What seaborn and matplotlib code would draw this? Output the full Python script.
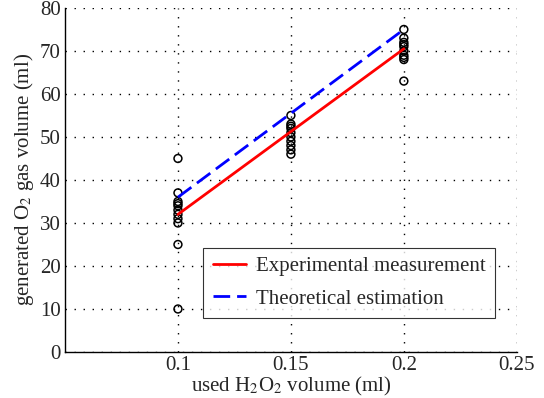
import pandas as pd
import seaborn as sns
import matplotlib.pyplot as plt
import numpy as np

# Measured samples
x_points = [0.1] * 11 + [0.15] * 10 + [0.2] * 10
y_points = [45, 37, 35, 34.5, 34, 33, 32, 31, 30, 25, 10,
            55, 53, 52.5, 52, 51, 50, 49, 48, 47, 46,
            75, 73, 72, 71.5, 71, 70, 69, 68.5, 68, 63]

# Fitted lines
x_line = [0.1, 0.15, 0.2]
exp_line = [32, 51.25, 70.5]
theo_line = [36, 55.5, 75]

sns.set_style("white")
plt.rcParams["font.family"] = ["Liberation Serif", "DejaVu Serif"]
plt.rcParams["mathtext.fontset"] = "stix"

fig = plt.figure(figsize=(5.44, 3.98), dpi=100)
ax = fig.add_axes([0.1195, 0.1156, 0.8305, 0.8644])

df_pts = pd.DataFrame({"x": x_points, "y": y_points})
sns.scatterplot(data=df_pts, x="x", y="y", ax=ax, marker="o", s=32,
                facecolor="none", edgecolor="black", linewidth=1.1, zorder=3)

df_lines = pd.DataFrame({"x": x_line * 2,
                         "y": exp_line + theo_line,
                         "kind": ["Experimental measurement"] * 3 + ["Theoretical estimation"] * 3})
sns.lineplot(data=df_lines, x="x", y="y", hue="kind", style="kind",
             palette=["red", "blue"], dashes=[(None, None), (6, 2.5)],
             linewidth=2, ax=ax, zorder=4)

ax.set_xlim(0.05, 0.25)
ax.set_ylim(0, 80)
ax.set_xticks([0.1, 0.15, 0.2, 0.25])
ax.set_xticklabels(["0.1", "0.15", "0.2", "0.25"])
ax.set_yticks(range(0, 81, 10))
ax.tick_params(direction="in", length=4, labelsize=15, width=0.8, pad=3)
ax.grid(True, linestyle=(0, (1, 5.5)), color="black", linewidth=1.0)
for s in ["top", "right"]:
    ax.spines[s].set_visible(False)
for s in ["left", "bottom"]:
    ax.spines[s].set_color("black")
    ax.spines[s].set_linewidth(1.0)

ax.set_xlabel("used H$_2$O$_2$ volume (ml)", fontsize=15, labelpad=0)
ax.set_ylabel("generated O$_2$ gas volume (ml)", fontsize=15, labelpad=3)

leg = ax.legend(loc="lower right", bbox_to_anchor=(0.951, 0.099), borderaxespad=0,
                fontsize=15, frameon=True, fancybox=False, edgecolor="black",
                handlelength=1.6, handletextpad=0.45, borderpad=0.45, labelspacing=0.6)
leg.get_frame().set_linewidth(0.8)

fig.savefig("out.png", dpi=100)
